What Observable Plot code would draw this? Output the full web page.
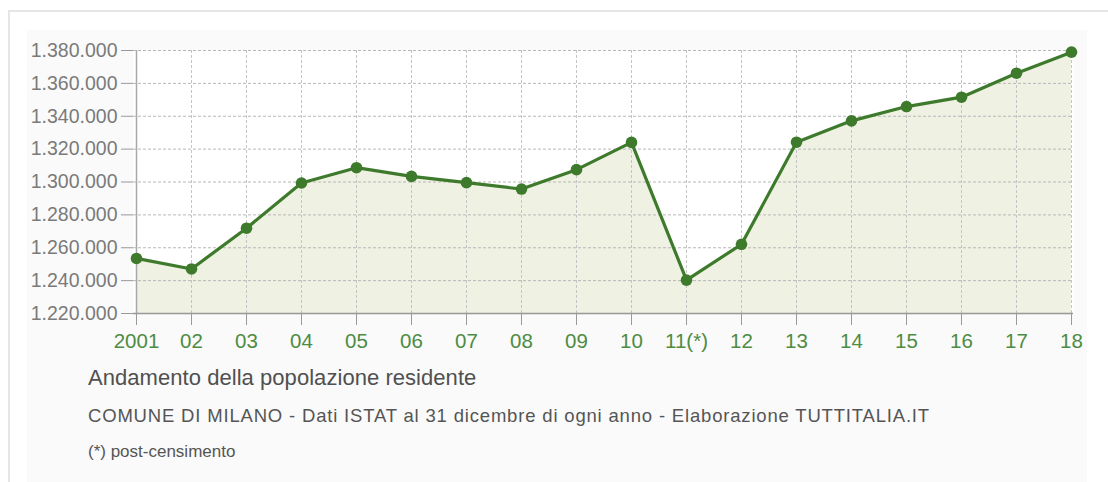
<!DOCTYPE html>
<html>
<head>
<meta charset="utf-8">
<script src="https://cdn.jsdelivr.net/npm/d3@7"></script>
<script src="https://cdn.jsdelivr.net/npm/@observablehq/plot@0.6"></script>
<style>
  html, body { margin: 0; padding: 0; background: #ffffff; width: 1108px; height: 482px; overflow: hidden; }
  body { font-family: "Liberation Sans", Arial, Helvetica, sans-serif; position: relative; }
  #frame { position: absolute; left: 8px; top: 10px; width: 1110px; height: 480px; border-top: 2px solid #e6e6e6; border-left: 2px solid #e6e6e6; }
  #inner { position: absolute; left: 27px; top: 30px; width: 1060px; height: 452px; background: #fafafa; }
  #chart { position: absolute; left: 27px; top: 30px; line-height: 0; }
  #chart svg { display: block; }
  .txt { position: absolute; left: 88px; color: #555; white-space: nowrap; line-height: 1; }
  #title { top: 367px; font-size: 22px; letter-spacing: 0.05px; color: #505050; }
  #subtitle { top: 407px; font-size: 18.5px; letter-spacing: 0.82px; }
  #note { top: 443px; font-size: 17px; letter-spacing: 0px; }
</style>
</head>
<body>
<div id="frame"></div>
<div id="inner"></div>
<div id="chart"></div>
<div class="txt" id="title">Andamento della popolazione residente</div>
<div class="txt" id="subtitle">COMUNE DI MILANO - Dati ISTAT al 31 dicembre di ogni anno - Elaborazione TUTTITALIA.IT</div>
<div class="txt" id="note">(*) post-censimento</div>
<script>
const years = ["2001","02","03","04","05","06","07","08","09","10","11(*)","12","13","14","15","16","17","18"];
const population = [1253500, 1247100, 1271900, 1299400, 1308700, 1303400, 1299600, 1295700, 1307500, 1324100, 1240300, 1262100, 1324200, 1337200, 1345900, 1351600, 1366200, 1379000];
const yTicks = [1220000, 1240000, 1260000, 1280000, 1300000, 1320000, 1340000, 1360000, 1380000];
const yMin = 1220000, yMax = 1380000;

const data = years.map((y, i) => ({year: y, pop: population[i]}));
const it = d3.formatLocale({decimal: ",", thousands: ".", grouping: [3]});
const fmt = it.format(",d");

const green = "#3e7a2c";
const chart = Plot.plot({
  width: 1076,
  height: 328,
  marginLeft: 106,
  marginRight: 30,
  marginTop: 20,
  marginBottom: 45,
  style: {background: "transparent", fontFamily: "'Liberation Sans', Arial, Helvetica, sans-serif", fontSize: "19px"},
  x: {type: "point", domain: years, padding: 0, label: null},
  y: {domain: [yMin, yMax], label: null},
  marks: [
    Plot.frame({fill: "#ffffff", stroke: null}),
    Plot.areaY(data, {x: "year", y1: yMin, y2: "pop", fill: "#eff1e2"}),
    Plot.gridY(yTicks, {stroke: "#b8b8b8", strokeOpacity: 1, strokeDasharray: "3,2", strokeWidth: 1}),
    Plot.gridX(years, {stroke: "#c4c4c4", strokeOpacity: 1, strokeDasharray: "3,2", strokeWidth: 1}),
    Plot.ruleX([years[0]], {stroke: "#a8a8a8", strokeWidth: 1.5}),
    Plot.ruleY([yMin], {stroke: "#999999", strokeWidth: 1.5}),
    Plot.axisY(yTicks, {tickFormat: fmt, tickSize: 12, tickPadding: 4, stroke: "#999999", fill: "#7a7a7a", fontSize: 19.5}),
    Plot.axisX(years, {tickSize: 12, tickPadding: 8, stroke: "#999999", fill: "#4e8c43", fontSize: 20.5}),
    Plot.line(data, {x: "year", y: "pop", stroke: green, strokeWidth: 3.2}),
    Plot.dot(data, {x: "year", y: "pop", r: 5.8, fill: green, stroke: null})
  ]
});
document.getElementById("chart").appendChild(chart);
</script>
</body>
</html>
